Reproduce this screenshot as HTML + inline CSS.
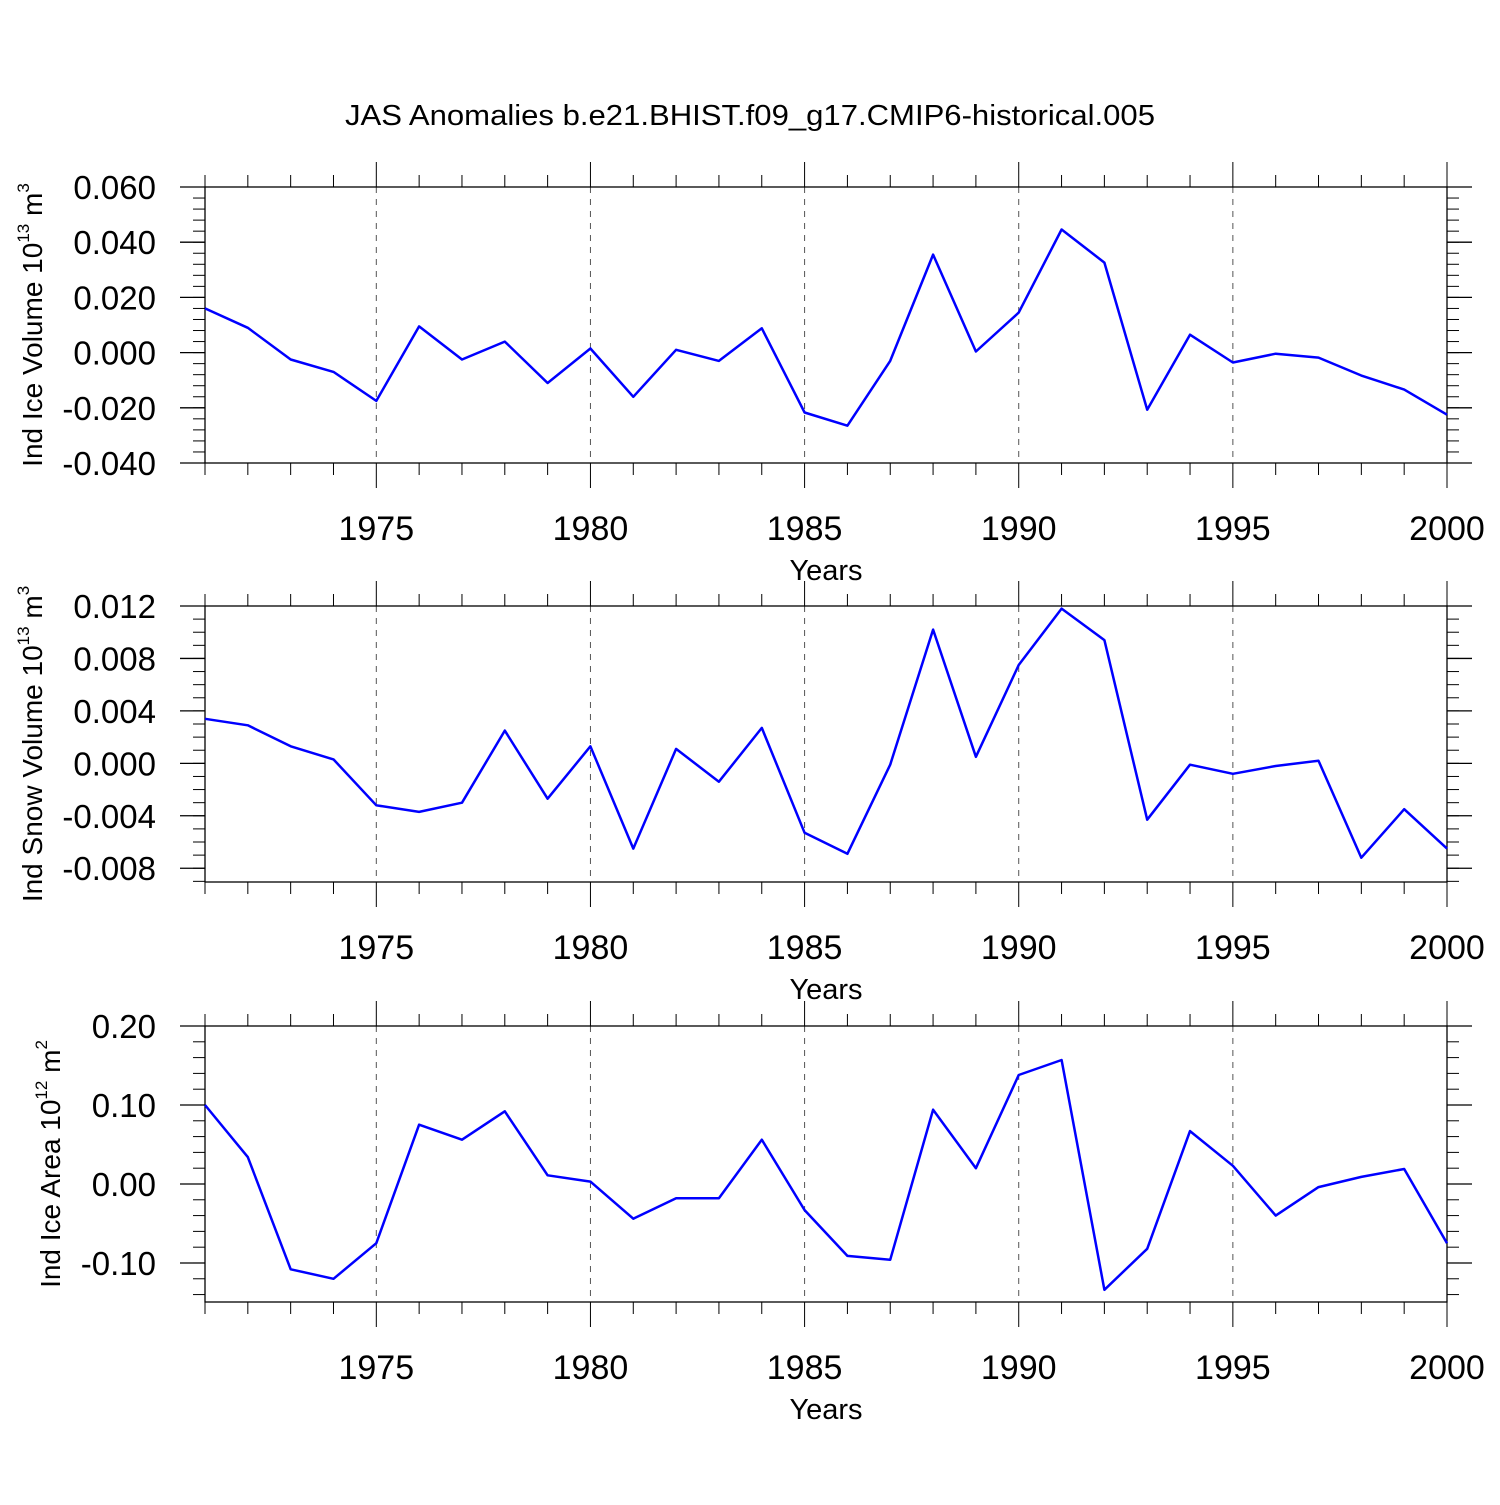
<!DOCTYPE html>
<html><head><meta charset="utf-8"><style>
html,body{margin:0;padding:0;background:#fff;}
svg text{font-family:"Liberation Sans",sans-serif;fill:#000;}
</style></head><body>
<svg id="chart" width="1500" height="1500" xmlns="http://www.w3.org/2000/svg">
<text x="750" y="125" font-size="29" text-anchor="middle" textLength="810" lengthAdjust="spacingAndGlyphs">JAS Anomalies b.e21.BHIST.f09_g17.CMIP6-historical.005</text>
</svg>
<script>
const years = [1971,1972,1973,1974,1975,1976,1977,1978,1979,1980,1981,1982,1983,1984,1985,1986,1987,1988,1989,1990,1991,1992,1993,1994,1995,1996,1997,1998,1999,2000];
const iceVolume = [0.016,0.009,-0.0025,-0.007,-0.0175,0.0095,-0.0025,0.004,-0.011,0.0015,-0.016,0.001,-0.003,0.0088,-0.0217,-0.0265,-0.003,0.0355,0.0004,0.0145,0.0446,0.0326,-0.0207,0.0065,-0.0036,-0.0004,-0.0018,-0.0083,-0.0134,-0.0225];
const snowVolume = [0.0034,0.0029,0.0013,0.0003,-0.0032,-0.0037,-0.003,0.0025,-0.0027,0.0013,-0.0065,0.0011,-0.0014,0.0027,-0.0053,-0.0069,-0.0001,0.0102,0.0005,0.0075,0.0118,0.0094,-0.0043,-0.0001,-0.0008,-0.0002,0.0002,-0.0072,-0.0035,-0.0065];
const iceArea = [0.10,0.034,-0.108,-0.12,-0.075,0.075,0.056,0.092,0.011,0.003,-0.044,-0.018,-0.018,0.056,-0.033,-0.091,-0.096,0.094,0.02,0.138,0.157,-0.134,-0.082,0.067,0.023,-0.04,-0.004,0.009,0.019,-0.075];
const xTickLabels = ["1975","1980","1985","1990","1995","2000"];
const ticks1 = ["-0.040","-0.020","0.000","0.020","0.040","0.060"];
const ticks2 = ["-0.008","-0.004","0.000","0.004","0.008","0.012"];
const ticks3 = ["-0.10","0.00","0.10","0.20"];

const NS="http://www.w3.org/2000/svg";
const svg=document.getElementById('chart');
function mk(tag,attrs,parent){const e=document.createElementNS(NS,tag);for(const k in attrs)e.setAttribute(k,attrs[k]);(parent||svg).appendChild(e);return e;}
const X0=205,X1=1447;
function xs(y){return X0+(y-1971)/(2000-1971)*(X1-X0);}

function panel(p){
  const g=mk('g',{});
  
  
  const ys=v=>p.top+(p.ymax-v)/(p.ymax-p.ymin)*(p.bot-p.top);
  for(let yr=1975;yr<=1995;yr+=5){
    const l=mk('line',{x1:xs(yr),x2:xs(yr),y1:p.top,y2:p.bot,stroke:'#555','stroke-width':1,'stroke-dasharray':'6,6'},g);
    
    
  }
  const f=mk('rect',{x:X0,y:p.top,width:X1-X0,height:p.bot-p.top,fill:'none',stroke:'#000','stroke-width':1.3},g);
  
  
  for(const yr of years){
    const major=yr%5===0, len=major?25:12, x=xs(yr);
    mk('line',{x1:x,x2:x,y1:p.top,y2:p.top-len,stroke:'#000','stroke-width':1},g);
    mk('line',{x1:x,x2:x,y1:p.bot,y2:p.bot+len,stroke:'#000','stroke-width':1},g);
  }
  xTickLabels.forEach(s=>{
    const t=mk('text',{x:xs(+s),y:p.bot+77,'font-size':34,'text-anchor':'middle'},g);t.textContent=s;
    
    
  });
  const xt=mk('text',{x:826,y:p.bot+117,'font-size':29,'text-anchor':'middle'},g);xt.textContent='Years';
  
  
  const n=Math.round((p.ymax-p.ymin)/p.minor);
  for(let i=0;i<=n;i++){
    const v=p.ymax-i*p.minor, y=ys(v);
    mk('line',{x1:X0,x2:X0-12,y1:y,y2:y,stroke:'#000','stroke-width':1},g);
    mk('line',{x1:X1,x2:X1+12,y1:y,y2:y,stroke:'#000','stroke-width':1},g);
  }
  p.ticks.forEach(s=>{
    const y=ys(+s);
    mk('line',{x1:X0,x2:X0-25,y1:y,y2:y,stroke:'#000','stroke-width':1.3},g);
    mk('line',{x1:X1,x2:X1+25,y1:y,y2:y,stroke:'#000','stroke-width':1.3},g);
    const t=mk('text',{x:156,y:y+12,'font-size':33,'text-anchor':'end'},g);t.textContent=s;
    
    
  });
  const cy=(p.top+p.bot)/2;
  const yt=mk('text',{x:p.tx,y:cy,'font-size':28,'text-anchor':'middle',transform:`rotate(-90 ${p.tx} ${cy})`},g);
  
  
  yt.innerHTML=p.title+' 10<tspan font-size="17" dy="-13">'+p.exp+'</tspan><tspan dy="13"> m</tspan><tspan font-size="17" dy="-13">'+p.unit+'</tspan>';
  const pts=years.map((yr,i)=>xs(yr).toFixed(1)+','+ys(p.data[i]).toFixed(1)).join(' ');
  const pl=mk('polyline',{points:pts,fill:'none',stroke:'#0000ff','stroke-width':2.5,'stroke-linejoin':'round'},g);
  
  
}
panel({name:'ice-volume-panel',top:187,bot:463,ymin:-0.04,ymax:0.06,minor:0.004,ticks:ticks1,data:iceVolume,title:'Ind Ice Volume',exp:'13',unit:'3',tx:42});
panel({name:'snow-volume-panel',top:606,bot:882,ymin:-0.00905,ymax:0.012,minor:0.001,ticks:ticks2,data:snowVolume,title:'Ind Snow Volume',exp:'13',unit:'3',tx:42});
panel({name:'ice-area-panel',top:1026,bot:1302,ymin:-0.1494,ymax:0.20,minor:0.02,ticks:ticks3,data:iceArea,title:'Ind Ice Area',exp:'12',unit:'2',tx:60});
</script>
</body></html>
